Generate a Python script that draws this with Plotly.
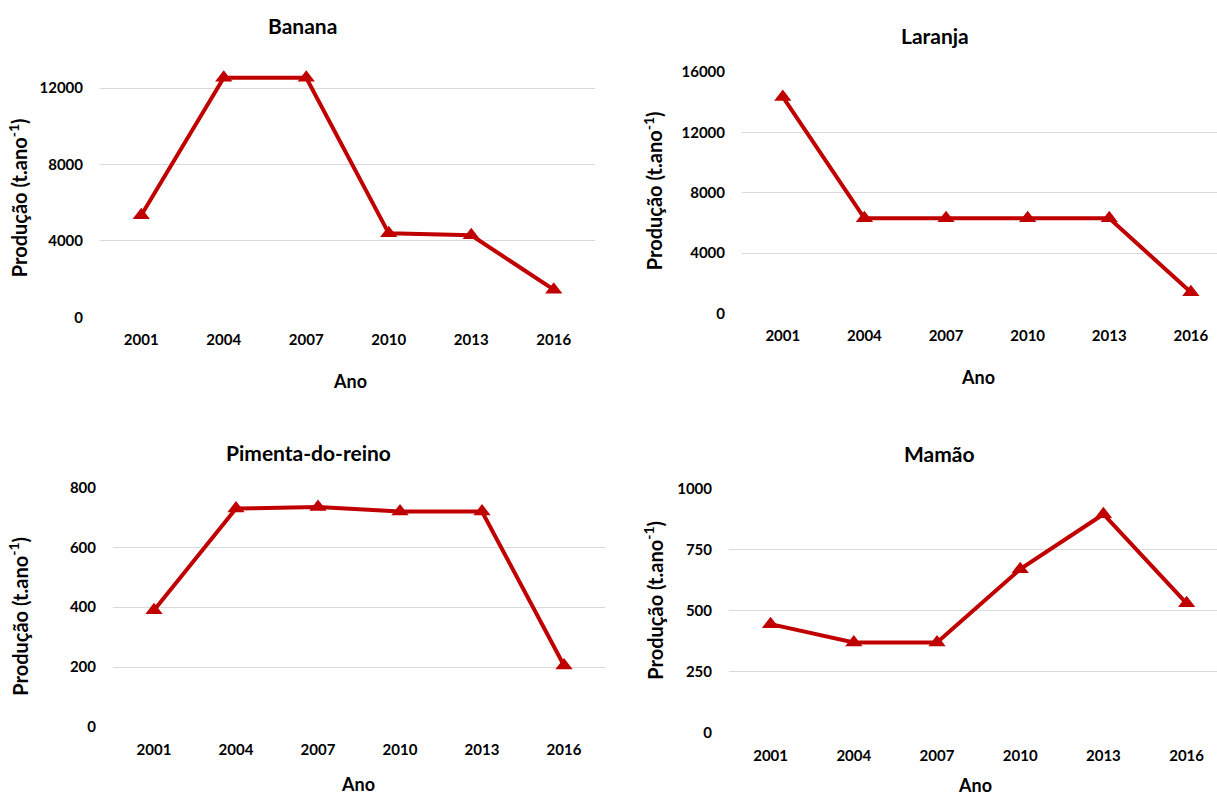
import plotly.graph_objects as go

years = ["2001", "2004", "2007", "2010", "2013", "2016"]
banana = [5350, 12550, 12550, 4400, 4300, 1450]
laranja = [14350, 6300, 6300, 6300, 6300, 1400]
pimenta = [390, 730, 735, 720, 720, 205]
mamao = [445, 370, 370, 670, 895, 530]

titles = ["Banana", "Laranja", "Pimenta-do-reino", "Mamão"]
series = [banana, laranja, pimenta, mamao]
y_ticks = [[0, 4000, 8000, 12000], [0, 4000, 8000, 12000, 16000],
           [0, 200, 400, 600, 800], [0, 250, 500, 750, 1000]]
y_ranges = [[0, 14000], [0, 16000], [0, 800], [0, 1000]]

W, H = 1217, 805
RED = "#C00000"
FONT = "Lato"


def py(y):
    """pixel row (top-down) -> paper fraction, with vertical calibration"""
    return 1 - ((y - 10) / 0.9765) / H


# pixel layout of each panel: (left, right, top, bottom), x range max
panels = [
    dict(l=100, r=595, t=50, b=317, xmax=5.5),
    dict(l=742, r=1217, t=72, b=313, xmax=5.32),
    dict(l=113, r=605, t=487, b=726, xmax=5.5),
    dict(l=729, r=1217, t=488, b=732, xmax=5.365),
]
# annotation pixel positions
title_pos = [(302, 25), (935, 35), (308, 452), (940, 453)]
ano_pos = [(350, 381), (978, 377), (358, 783), (975, 784)]
ytitle_pos = [(18, 198), (653, 191), (18, 616), (653, 600)]

fig = go.Figure()
annotations = []
for i, (vals, p) in enumerate(zip(series, panels)):
    n = i + 1
    xa = "x" if n == 1 else f"x{n}"
    ya = "y" if n == 1 else f"y{n}"
    fig.add_trace(go.Scatter(
        x=years, y=vals, xaxis=xa, yaxis=ya, mode="lines+markers",
        line=dict(color=RED, width=4),
        marker=dict(symbol="triangle-up", size=15, color=RED),
        cliponaxis=False, showlegend=False))
    xk = "xaxis" if n == 1 else f"xaxis{n}"
    yk = "yaxis" if n == 1 else f"yaxis{n}"
    fig.layout[xk] = dict(
        domain=[p["l"] / W, p["r"] / W], anchor=ya, type="category",
        range=[-0.5, p["xmax"]], showgrid=False, zeroline=False,
        showline=False, ticks="", ticklabelstandoff=12,
        tickfont=dict(family=FONT, size=15, color="#000", weight="bold"))
    fig.layout[yk] = dict(
        domain=[py(p["b"]), py(p["t"])], anchor=xa,
        range=y_ranges[i], tickvals=y_ticks[i], tickformat="d", showgrid=True,
        gridcolor="#D9D9D9", gridwidth=1.3, zeroline=False, showline=False,
        ticks="", ticklabelstandoff=16,
        tickfont=dict(family=FONT, size=15, color="#000", weight="bold"))
    tx, ty = title_pos[i]
    annotations.append(dict(text=titles[i], x=tx / W, y=py(ty), xref="paper", yref="paper",
                            showarrow=False, xanchor="center", yanchor="middle",
                            font=dict(family=FONT, size=21, color="#000", weight="bold")))
    ax, ay = ano_pos[i]
    annotations.append(dict(text="Ano", x=ax / W, y=py(ay), xref="paper", yref="paper",
                            showarrow=False, xanchor="center", yanchor="middle",
                            font=dict(family=FONT, size=18, color="#000", weight="bold")))
    yx, yy = ytitle_pos[i]
    annotations.append(dict(text="Produção (t.ano<sup>-1</sup>)", x=yx / W, y=py(yy),
                            xref="paper", yref="paper", showarrow=False, textangle=-90,
                            xanchor="center", yanchor="middle",
                            font=dict(family=FONT, size=20, color="#000", weight="bold")))

fig.update_layout(autosize=True, margin=dict(l=0, r=0, t=0, b=0),
                  paper_bgcolor="white", plot_bgcolor="white",
                  annotations=annotations)
fig.write_html("out.html",
               config={"displayModeBar": False, "responsive": True},
               default_width="100vw", default_height="100vh",
               post_script="document.body.style.margin='0';"
                           "document.documentElement.style.overflow='hidden';"
                           "document.body.style.overflow='hidden';")
